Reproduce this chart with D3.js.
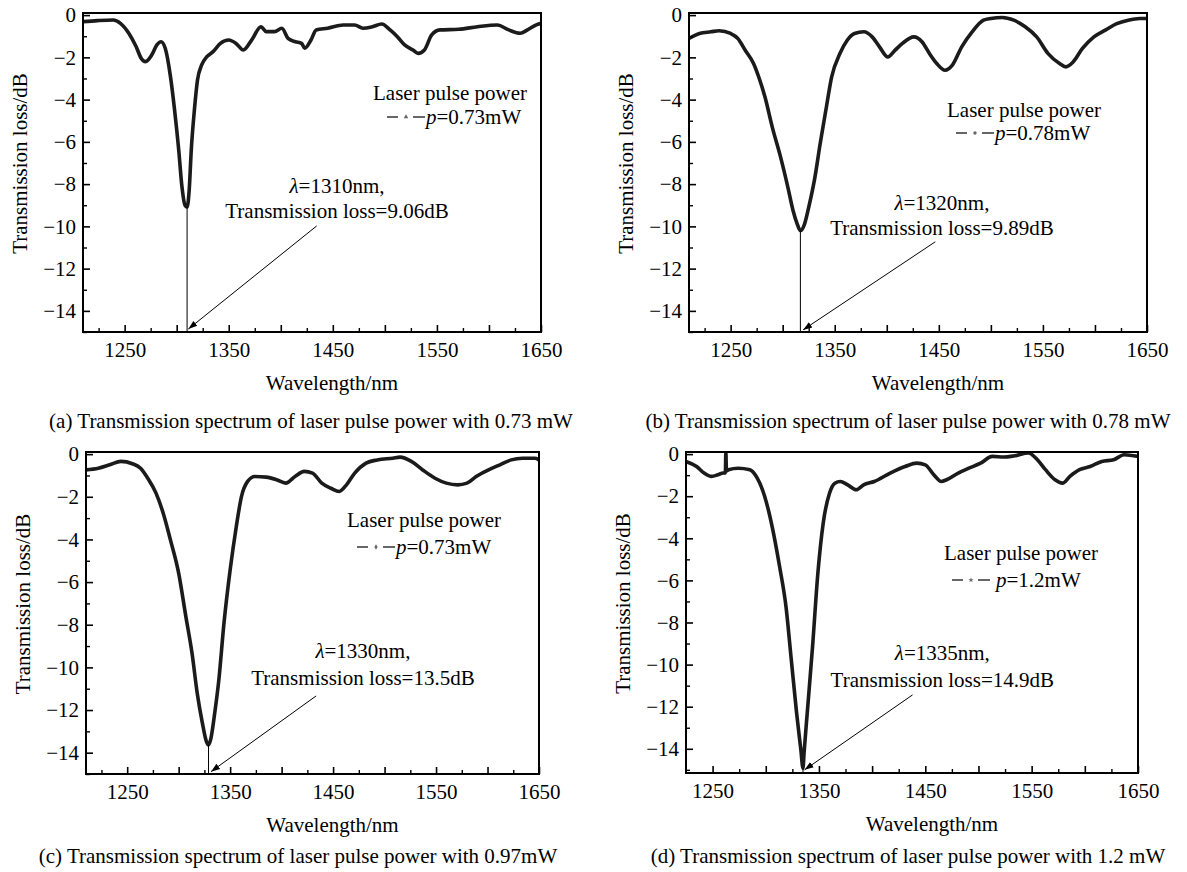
<!DOCTYPE html>
<html>
<head>
<meta charset="utf-8">
<script src="https://cdn.jsdelivr.net/npm/d3@7.9.0/dist/d3.min.js"></script>
<style>
  body { margin: 0; background: #fff; }
  svg text { font-family: "Liberation Serif", "Times New Roman", serif; fill: #000; }
</style>
</head>
<body>
<svg id="chart" width="1187" height="872"></svg>
<script>
// Spectra: wavelength (nm) and transmission loss (dB)
const wlA = [1210,1224,1239,1246,1254,1261,1266,1270,1276,1281,1285,1289,1294,1298,1302,1305,1308,1310,1312,1314,1317,1320,1324,1329,1335,1342,1350,1357,1364,1372,1381,1386,1394,1401,1407,1414,1420,1423,1429,1434,1445,1460,1471,1479,1488,1497,1505,1512,1519,1527,1532,1538,1545,1553,1571,1589,1608,1619,1630,1637,1645,1650];
const lossA = [-0.31,-0.26,-0.23,-0.39,-0.86,-1.49,-2.05,-2.2,-1.89,-1.41,-1.26,-1.57,-2.9,-4.5,-6.4,-8.1,-9.0,-9.08,-8.3,-6.4,-4.5,-3.07,-2.36,-1.97,-1.73,-1.34,-1.18,-1.34,-1.65,-1.18,-0.55,-0.78,-0.78,-0.62,-1.1,-1.26,-1.34,-1.57,-1.18,-0.7,-0.62,-0.47,-0.47,-0.62,-0.55,-0.42,-0.7,-1.02,-1.41,-1.65,-1.81,-1.65,-0.94,-0.7,-0.67,-0.55,-0.47,-0.7,-0.86,-0.7,-0.47,-0.39];

const wlB = [1210,1220,1231,1239,1250,1257,1264,1272,1277,1283,1290,1298,1305,1310,1314,1317,1321,1325,1331,1336,1342,1347,1355,1362,1369,1378,1386,1393,1401,1408,1415,1426,1434,1441,1448,1456,1463,1472,1482,1493,1500,1511,1522,1533,1544,1555,1566,1572,1579,1588,1599,1610,1621,1632,1643,1650];
const lossB = [-1.11,-0.87,-0.79,-0.74,-0.87,-1.11,-1.66,-2.29,-2.93,-3.88,-5.3,-6.72,-8.15,-9.26,-9.89,-10.2,-9.89,-9.1,-7.67,-6.09,-4.35,-2.93,-1.82,-1.19,-0.87,-0.79,-1.03,-1.5,-1.98,-1.66,-1.34,-1.03,-1.27,-1.82,-2.29,-2.61,-2.37,-1.5,-0.79,-0.24,-0.16,-0.11,-0.24,-0.55,-1.03,-1.82,-2.29,-2.45,-2.22,-1.58,-1.03,-0.71,-0.4,-0.24,-0.16,-0.16];

const wlC = [1210,1222,1233,1244,1255,1263,1270,1278,1285,1292,1300,1307,1313,1318,1323,1327,1329,1331,1335,1339,1344,1350,1356,1361,1367,1374,1385,1395,1404,1413,1422,1430,1439,1448,1456,1463,1471,1482,1493,1508,1515,1526,1537,1549,1560,1571,1580,1589,1601,1612,1623,1634,1646,1650];
const lossC = [-0.74,-0.66,-0.5,-0.34,-0.45,-0.66,-1.13,-1.83,-2.77,-4.02,-5.58,-7.62,-9.34,-11.2,-12.6,-13.48,-13.64,-13.4,-12.15,-10.6,-7.93,-5.43,-3.39,-1.99,-1.28,-1.05,-1.08,-1.2,-1.36,-1.05,-0.81,-0.89,-1.36,-1.6,-1.75,-1.44,-0.89,-0.42,-0.27,-0.19,-0.14,-0.34,-0.74,-1.13,-1.36,-1.44,-1.36,-1.05,-0.74,-0.5,-0.27,-0.19,-0.19,-0.27];

const wlD = [1225,1235,1242,1249,1255,1260,1262,1262.5,1263,1265,1274,1285,1292,1299,1306,1313,1319,1324,1329,1333,1335,1336,1339,1344,1349,1354,1360,1365,1370,1377,1385,1392,1402,1417,1431,1442,1450,1458,1465,1470,1481,1491,1502,1513,1524,1534,1547,1554,1563,1572,1579,1586,1595,1605,1616,1627,1637,1650];
const lossD = [-0.35,-0.59,-0.9,-1.06,-0.98,-0.9,-0.9,0.1,-0.8,-0.74,-0.67,-0.74,-1.14,-2.01,-3.44,-5.34,-7.24,-9.77,-12.3,-14.05,-14.92,-14.2,-12.3,-9.14,-5.65,-3.28,-1.85,-1.38,-1.3,-1.46,-1.69,-1.46,-1.3,-0.9,-0.59,-0.43,-0.51,-0.98,-1.3,-1.22,-0.9,-0.67,-0.43,-0.11,-0.14,-0.08,0.05,-0.19,-0.74,-1.22,-1.38,-1.06,-0.74,-0.59,-0.35,-0.27,-0.03,-0.11];

// Axis ticks
const xLabelTicks = [1250, 1350, 1450, 1550, 1650];
const yLabelTicks = [0, -2, -4, -6, -8, -10, -12, -14];

// Annotation text, peak marker and arrow (data units)
const peakWl = [1310, 1317, 1329, 1335];
const peakLoss = [-9.08, -10.2, -13.64, -14.92];
const annoLine1 = ["=1310nm,", "=1320nm,", "=1330nm,", "=1335nm,"];
const annoLine2 = ["Transmission loss=9.06dB", "Transmission loss=9.89dB", "Transmission loss=13.5dB", "Transmission loss=14.9dB"];
const annoPos = [[1454, -8.42, -9.6], [1453, -9.23, -10.41], [1479, -9.56, -10.83], [1466, -9.78, -11.05]];
const arrowFrom = [[1434.5, -9.98], [1446.6, -10.73], [1433.5, -11.34], [1438, -11.44]];
const arrowTo = [[1311.2, -14.86], [1319.6, -14.9], [1331.4, -14.89], [1336.5, -15.0]];

const powerLabels = ["=0.73mW", "=0.78mW", "=0.73mW", "=1.2mW"];
const captions = [
  "(a) Transmission spectrum of laser pulse power with 0.73 mW",
  "(b) Transmission spectrum of laser pulse power with 0.78 mW",
  "(c) Transmission spectrum of laser pulse power with 0.97mW",
  "(d) Transmission spectrum of laser pulse power with 1.2 mW"
];

const panels = [
  { wl: wlA, loss: lossA, left: 83, right: 541, top: 13, bottom: 332, xDom: [1210, 1650], yDom: [-15, 0.1],
    leg: [373, 100, 387, 124], sym: d3.symbolTriangle, gap: 0, cap: [311, 428] },
  { wl: wlB, loss: lossB, left: 689, right: 1147, top: 13, bottom: 332, xDom: [1210, 1650], yDom: [-15, 0.1],
    leg: [947, 117, 956, 140], sym: d3.symbolCircle, gap: 0, cap: [908, 428] },
  { wl: wlC, loss: lossC, left: 86, right: 539, top: 452, bottom: 774, xDom: [1210, 1650], yDom: [-15, 0.1],
    leg: [347, 527, 357, 554], sym: d3.symbolDiamond, gap: 0, cap: [298, 863] },
  { wl: wlD, loss: lossD, left: 686, right: 1138, top: 452, bottom: 773, xDom: [1225, 1650], yDom: [-15.15, 0.1],
    leg: [944, 560, 952, 587], sym: d3.symbolStar, gap: 5, cap: [908, 863] }
];

const svg = d3.select('#chart');
const FS = 21;

svg.append('defs').append('marker')
  .attr('id', 'arrow')
  .attr('viewBox', '0 0 10 10')
  .attr('refX', 10).attr('refY', 5)
  .attr('markerWidth', 9).attr('markerHeight', 9)
  .attr('markerUnits', 'userSpaceOnUse')
  .attr('orient', 'auto')
  .append('path')
  .attr('d', 'M0,1.5 L10,5 L0,8.5 Z')
  .attr('fill', '#000');

panels.forEach((p, i) => {
  const x = d3.scaleLinear().domain(p.xDom).range([p.left, p.right]);
  const y = d3.scaleLinear().domain(p.yDom).range([p.bottom, p.top]);
  const g = svg.append('g');

  const clipId = `clip${i}`;
  g.append('clipPath').attr('id', clipId)
    .append('rect')
    .attr('x', p.left).attr('y', p.top)
    .attr('width', p.right - p.left).attr('height', p.bottom - p.top);

  // spectrum
  const pts = p.wl.map((w, k) => [w, p.loss[k]]);
  g.append('path')
    .datum(pts)
    .attr('clip-path', `url(#${clipId})`)
    .attr('fill', 'none')
    .attr('stroke', '#1b1b1b')
    .attr('stroke-width', 3.6)
    .attr('stroke-linejoin', 'round')
    .attr('d', d3.line().curve(d3.curveMonotoneX).x(d => x(d[0])).y(d => y(d[1])));

  // x axis: major ticks every 50, minor every 25, labels every 100
  const xMajor = d3.range(1250, 1651, 50);
  const xMinor = d3.range(1225, 1651, 50).filter(v => v > p.xDom[0]);
  g.append('g')
    .attr('transform', `translate(0,${p.bottom})`)
    .call(d3.axisBottom(x).tickValues(xMajor).tickSizeInner(-7).tickSizeOuter(0).tickPadding(10)
      .tickFormat(d => xLabelTicks.includes(d) ? d : ''))
    .call(a => a.select('.domain').remove())
    .call(a => a.selectAll('line').attr('stroke-width', 1.6))
    .call(a => a.selectAll('text').attr('font-size', FS).attr('font-family', '"Liberation Serif", serif'));
  g.append('g')
    .attr('transform', `translate(0,${p.bottom})`)
    .call(d3.axisBottom(x).tickValues(xMinor).tickSizeInner(-4).tickSizeOuter(0).tickFormat(''))
    .call(a => a.select('.domain').remove())
    .call(a => a.selectAll('line').attr('stroke-width', 1.4));

  // y axis: major every 2 dB, minor every 1 dB
  g.append('g')
    .attr('transform', `translate(${p.left},0)`)
    .call(d3.axisLeft(y).tickValues(yLabelTicks).tickSizeInner(-7).tickSizeOuter(0).tickPadding(7))
    .call(a => a.select('.domain').remove())
    .call(a => a.selectAll('line').attr('stroke-width', 1.6))
    .call(a => a.selectAll('text').attr('font-size', FS).attr('font-family', '"Liberation Serif", serif'));
  g.append('g')
    .attr('transform', `translate(${p.left},0)`)
    .call(d3.axisLeft(y).tickValues(d3.range(-15, 0, 2)).tickSizeInner(-4).tickSizeOuter(0).tickFormat(''))
    .call(a => a.select('.domain').remove())
    .call(a => a.selectAll('line').attr('stroke-width', 1.4));

  // frame
  g.append('rect')
    .attr('x', p.left).attr('y', p.top)
    .attr('width', p.right - p.left).attr('height', p.bottom - p.top)
    .attr('fill', 'none').attr('stroke', '#000').attr('stroke-width', 2);

  // axis titles
  g.append('text')
    .attr('x', (p.left + p.right) / 2 + 20)
    .attr('y', p.bottom + 58)
    .attr('text-anchor', 'middle')
    .attr('font-size', FS)
    .text('Wavelength/nm');
  const cy = (p.top + p.bottom) / 2 - 9;
  g.append('text')
    .attr('transform', `translate(${p.left - 63},${cy}) rotate(-90)`)
    .attr('text-anchor', 'middle')
    .attr('dy', '0.35em')
    .attr('font-size', FS)
    .text('Transmission loss/dB');

  // legend
  g.append('text')
    .attr('x', p.leg[0]).attr('y', p.leg[1])
    .attr('font-size', FS)
    .text('Laser pulse power');
  const lg = g.append('g').attr('transform', `translate(${p.leg[2]},${p.leg[3]})`);
  lg.append('line').attr('x1', 0).attr('x2', 11).attr('y1', -7).attr('y2', -7)
    .attr('stroke', '#000').attr('stroke-width', 1.2);
  lg.append('path')
    .attr('transform', 'translate(19,-7)')
    .attr('d', d3.symbol().type(p.sym).size(9)())
    .attr('fill', '#666');
  lg.append('line').attr('x1', 26).attr('x2', 38).attr('y1', -7).attr('y2', -7)
    .attr('stroke', '#000').attr('stroke-width', 1.2);
  const lt = lg.append('text').attr('x', 39 + p.gap).attr('y', 0).attr('font-size', FS);
  lt.append('tspan').attr('font-style', 'italic').text('p');
  lt.append('tspan').text(powerLabels[i]);

  // peak marker and annotation
  g.append('line')
    .attr('x1', x(peakWl[i])).attr('x2', x(peakWl[i]))
    .attr('y1', y(peakLoss[i])).attr('y2', p.bottom)
    .attr('stroke', '#000').attr('stroke-width', 1);
  const t1 = g.append('text')
    .attr('x', x(annoPos[i][0])).attr('y', y(annoPos[i][1]))
    .attr('text-anchor', 'middle').attr('font-size', FS);
  t1.append('tspan').attr('font-style', 'italic').text('λ');
  t1.append('tspan').text(annoLine1[i]);
  g.append('text')
    .attr('x', x(annoPos[i][0])).attr('y', y(annoPos[i][2]))
    .attr('text-anchor', 'middle').attr('font-size', FS)
    .text(annoLine2[i]);
  g.append('line')
    .attr('x1', x(arrowFrom[i][0])).attr('y1', y(arrowFrom[i][1]))
    .attr('x2', x(arrowTo[i][0])).attr('y2', y(arrowTo[i][1]))
    .attr('stroke', '#000').attr('stroke-width', 1)
    .attr('marker-end', 'url(#arrow)');

  // caption
  g.append('text')
    .attr('x', p.cap[0]).attr('y', p.cap[1])
    .attr('text-anchor', 'middle').attr('font-size', FS)
    .text(captions[i]);
});
</script>
</body>
</html>
